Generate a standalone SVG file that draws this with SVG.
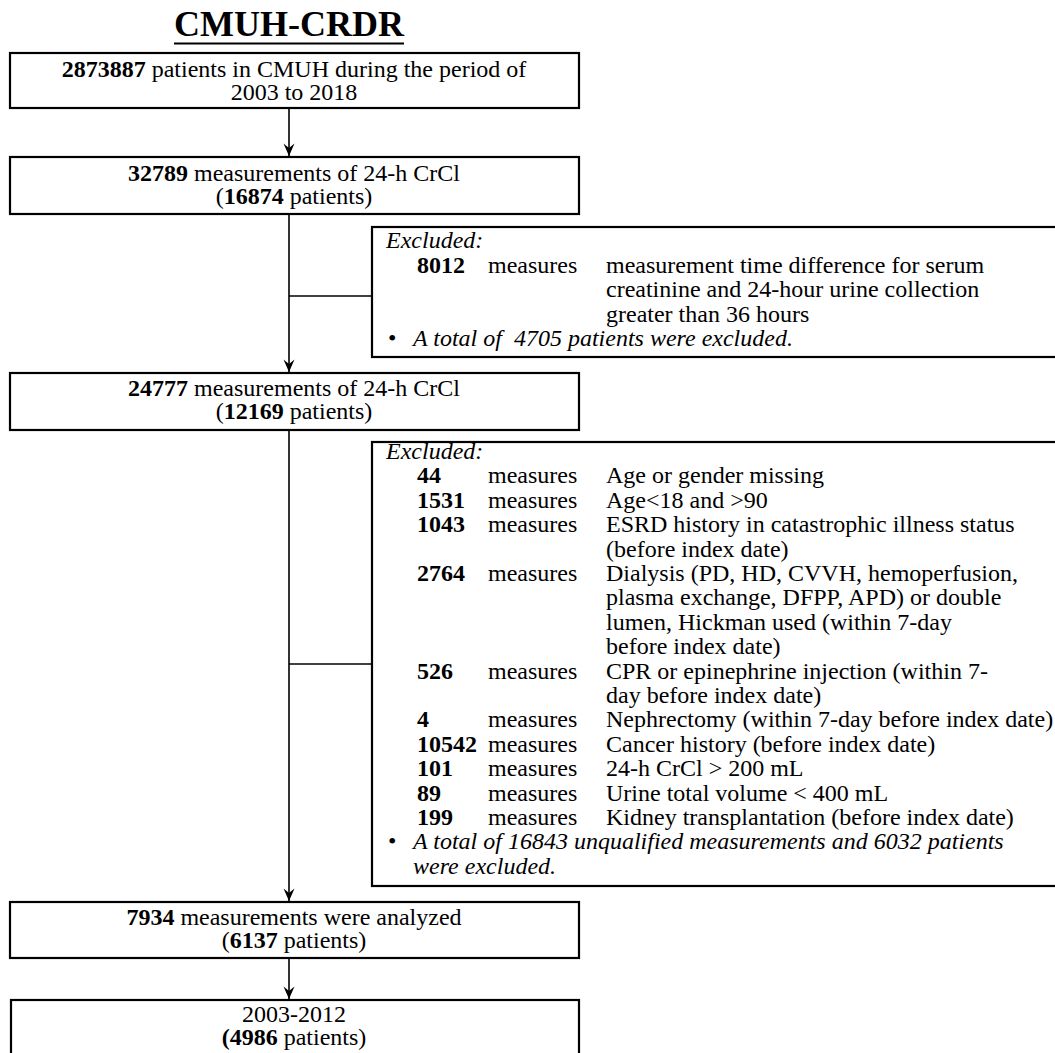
<svg xmlns="http://www.w3.org/2000/svg" width="1055" height="1053" viewBox="0 0 1055 1053">
<style>
text{font-family:"Liberation Serif","Times New Roman",serif;font-size:24px;fill:#000}
.c{text-anchor:middle}
.b{font-weight:bold}
.i{font-style:italic}
.pre{white-space:pre}
.box{fill:#fff;stroke:#000;stroke-width:2.2}
.ln{fill:none;stroke:#000;stroke-width:1.6}
</style>
<defs>
<marker id="ah" markerWidth="14" markerHeight="12" viewBox="0 0 14 12" refX="13" refY="6" orient="auto" markerUnits="userSpaceOnUse">
<path d="M0.5,0.5 L13,6 L0.5,11.5 L5,6 Z" fill="#000"/>
</marker>
</defs>
<rect width="1055" height="1053" fill="#fff"/>
<g id="title">
<text x="289" y="36" class="c b" style="font-size:36px">CMUH-CRDR</text>
<line x1="174" y1="43.5" x2="404" y2="43.5" stroke="#000" stroke-width="2"/>
</g>
<g id="connectors">
<line class="ln" x1="289" y1="108" x2="289" y2="156" marker-end="url(#ah)"/>
<line class="ln" x1="289" y1="214" x2="289" y2="372" marker-end="url(#ah)"/>
<line class="ln" x1="289" y1="296" x2="372" y2="296"/>
<line class="ln" x1="289" y1="430" x2="289" y2="901" marker-end="url(#ah)"/>
<line class="ln" x1="289" y1="664" x2="372" y2="664"/>
<line class="ln" x1="289" y1="958" x2="289" y2="999" marker-end="url(#ah)"/>
</g>
<g id="n1">
<rect class="box" x="10" y="53" width="569" height="55"/>
<text x="294" y="77" class="c"><tspan class="b">2873887</tspan> patients in CMUH during the period of</text>
<text x="294" y="100" class="c">2003 to 2018</text>
</g>
<g id="n2">
<rect class="box" x="10" y="157" width="569" height="57"/>
<text x="294" y="181" class="c"><tspan class="b">32789</tspan> measurements of 24-h CrCl</text>
<text x="294" y="204" class="c">(<tspan class="b">16874</tspan> patients)</text>
</g>
<g id="ex1">
<rect class="box" x="372" y="227" width="700" height="130"/>
<text x="386" y="248" class="i">Excluded:</text>
<text x="417" y="272.5" class="b">8012</text>
<text x="488" y="272.5">measures</text>
<text x="606" y="272.5">measurement time difference for serum</text>
<text x="606" y="297">creatinine and 24-hour urine collection</text>
<text x="606" y="321.5">greater than 36 hours</text>
<text x="388" y="346">•</text>
<text x="413" y="346" class="i pre">A total of  4705 patients were excluded.</text>
</g>
<g id="n3">
<rect class="box" x="10" y="373" width="569" height="57"/>
<text x="294" y="396" class="c"><tspan class="b">24777</tspan> measurements of 24-h CrCl</text>
<text x="294" y="419" class="c">(<tspan class="b">12169</tspan> patients)</text>
</g>
<g id="ex2">
<rect class="box" x="372" y="442" width="700" height="444"/>
<text x="386" y="459" class="i">Excluded:</text>
<text x="417" y="483.4" class="b">44</text><text x="488" y="483.4">measures</text><text x="606" y="483.4">Age or gender missing</text>
<text x="417" y="507.8" class="b">1531</text><text x="488" y="507.8">measures</text><text x="606" y="507.8">Age&lt;18 and &gt;90</text>
<text x="417" y="532.2" class="b">1043</text><text x="488" y="532.2">measures</text><text x="606" y="532.2">ESRD history in catastrophic illness status</text>
<text x="606" y="556.6">(before index date)</text>
<text x="417" y="581" class="b">2764</text><text x="488" y="581">measures</text><text x="606" y="581">Dialysis (PD, HD, CVVH, hemoperfusion,</text>
<text x="606" y="605.4">plasma exchange, DFPP, APD) or double</text>
<text x="606" y="629.8">lumen, Hickman used (within 7-day</text>
<text x="606" y="654.2">before index date)</text>
<text x="417" y="678.6" class="b">526</text><text x="488" y="678.6">measures</text><text x="606" y="678.6">CPR or epinephrine injection (within 7-</text>
<text x="606" y="703">day before index date)</text>
<text x="417" y="727.4" class="b">4</text><text x="488" y="727.4">measures</text><text x="606" y="727.4">Nephrectomy (within 7-day before index date)</text>
<text x="417" y="751.8" class="b">10542</text><text x="488" y="751.8">measures</text><text x="606" y="751.8">Cancer history (before index date)</text>
<text x="417" y="776.2" class="b">101</text><text x="488" y="776.2">measures</text><text x="606" y="776.2">24-h CrCl &gt; 200 mL</text>
<text x="417" y="800.6" class="b">89</text><text x="488" y="800.6">measures</text><text x="606" y="800.6">Urine total volume &lt; 400 mL</text>
<text x="417" y="825" class="b">199</text><text x="488" y="825">measures</text><text x="606" y="825">Kidney transplantation (before index date)</text>
<text x="388" y="849.4">•</text>
<text x="413" y="849.4" class="i">A total of 16843 unqualified measurements and 6032 patients</text>
<text x="413" y="873.8" class="i">were excluded.</text>
</g>
<g id="n4">
<rect class="box" x="10" y="902" width="569" height="56"/>
<text x="294" y="925" class="c"><tspan class="b">7934</tspan> measurements were analyzed</text>
<text x="294" y="948" class="c">(<tspan class="b">6137</tspan> patients)</text>
</g>
<g id="n5">
<rect class="box" x="11" y="1000" width="568" height="70"/>
<text x="294" y="1022" class="c">2003-2012</text>
<text x="294" y="1045" class="c"><tspan class="b">(4986</tspan> patients)</text>
</g>
</svg>
